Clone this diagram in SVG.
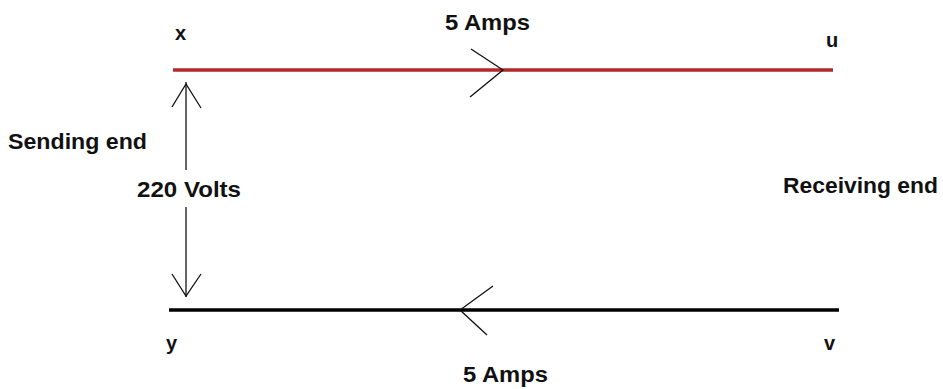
<svg xmlns="http://www.w3.org/2000/svg" width="943" height="389" viewBox="0 0 943 389">
<style>
  text { font-family: "Liberation Sans", Arial, sans-serif; font-weight: bold; fill: #111; }
  .lbl { font-size: 22px; }
  .pt { font-size: 20px; }
  .thin { stroke: #111; stroke-width: 1.3; fill: none; }
</style>
<rect width="943" height="389" fill="#ffffff"/>
<g id="connectors">
  <line id="line-xu" x1="173" y1="70" x2="833" y2="70" stroke="#b02a2a" stroke-width="3.5"/>
  <line id="line-yv" x1="169" y1="310" x2="839" y2="310" stroke="#000" stroke-width="3.5"/>
  <polyline class="thin" points="471,49 503,70 470,97"/>
  <polyline class="thin" points="493,286 460,310 487,335"/>
  <line class="thin" x1="186" y1="82" x2="186" y2="170"/>
  <line class="thin" x1="186" y1="207" x2="186" y2="297"/>
  <polyline class="thin" points="172,107 186,84 201,108"/>
  <polyline class="thin" points="172,274 186,296 201,274"/>
</g>
<g id="node-x"><text class="pt" x="175" y="40">x</text></g>
<g id="node-u"><text class="pt" x="826" y="47">u</text></g>
<g id="node-y"><text class="pt" x="166" y="350">y</text></g>
<g id="node-v"><text class="pt" x="824" y="350">v</text></g>
<g id="label-amps-top"><text class="lbl" x="445" y="30" textLength="85" lengthAdjust="spacingAndGlyphs">5 Amps</text></g>
<g id="label-amps-bottom"><text class="lbl" x="463" y="382" textLength="85" lengthAdjust="spacingAndGlyphs">5 Amps</text></g>
<g id="label-sending"><text class="lbl" x="8" y="149" textLength="139" lengthAdjust="spacingAndGlyphs">Sending end</text></g>
<g id="label-volts"><text class="lbl" x="137" y="197" textLength="104" lengthAdjust="spacingAndGlyphs">220 Volts</text></g>
<g id="label-receiving"><text class="lbl" x="783" y="193" textLength="155" lengthAdjust="spacingAndGlyphs">Receiving end</text></g>
</svg>
